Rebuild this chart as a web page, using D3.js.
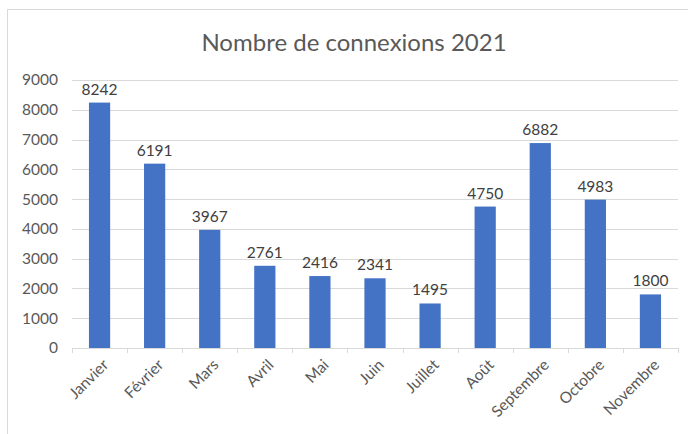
<!DOCTYPE html>
<html>
<head>
<meta charset="utf-8">
<script src="https://cdnjs.cloudflare.com/ajax/libs/d3/7.8.5/d3.min.js"></script>
<style>
  body { margin: 0; background: #fff; }
  text { font-family: Lato, "Open Sans", sans-serif; }
</style>
</head>
<body>
<div id="chart"></div>
<script>
var months = ["Janvier","Février","Mars","Avril","Mai","Juin","Juillet","Août","Septembre","Octobre","Novembre"]
var connexions = [8242, 6191, 3967, 2761, 2416, 2341, 1495, 4750, 6882, 4983, 1800]
var yTicks = [0, 1000, 2000, 3000, 4000, 5000, 6000, 7000, 8000, 9000]
var title = "Nombre de connexions 2021"

var W = 688, H = 434
var margin = {top: 80, left: 72, right: 10, bottom: 86}
var width = W - margin.left - margin.right,
    height = H - margin.top - margin.bottom

var svg = d3.select("#chart")
  .append("svg")
  .attr("width", W)
  .attr("height", H)

// chart frame (only top and left visible in the crop)
svg.append("path")
  .attr("d", "M7.5," + H + " V9.5 H" + W)
  .attr("fill", "none")
  .attr("stroke", "#d9d9d9")
  .attr("stroke-width", 1)

svg.append("text")
  .attr("x", 354)
  .attr("y", 51)
  .attr("text-anchor", "middle")
  .attr("font-size", 24)
  .attr("fill", "#595959")
  .text(title)

var g = svg.append("g")
  .attr("transform", "translate(" + margin.left + "," + margin.top + ")")

var x = d3.scaleBand()
  .domain(months)
  .range([0, width])
  .paddingInner(0.615)
  .paddingOuter(0.3075)

var y = d3.scaleLinear()
  .domain([0, 9000])
  .range([height, 0])

// gridlines
g.selectAll(".grid")
  .data(yTicks.slice(1))
  .enter()
  .append("line")
  .attr("x1", 0)
  .attr("x2", width)
  .attr("y1", function(d) { return Math.round(y(d)) + 0.5 })
  .attr("y2", function(d) { return Math.round(y(d)) + 0.5 })
  .attr("stroke", "#d9d9d9")

// y labels
g.selectAll(".ylab")
  .data(yTicks)
  .enter()
  .append("text")
  .attr("x", -14)
  .attr("y", function(d) { return y(d) })
  .attr("dy", "0.35em")
  .attr("text-anchor", "end")
  .attr("font-size", 15.5)
  .attr("fill", "#595959")
  .text(function(d) { return d })

// bars
g.selectAll(".bar")
  .data(connexions)
  .enter()
  .append("rect")
  .attr("x", function(d, i) { return x(months[i]) })
  .attr("width", x.bandwidth())
  .attr("y", function(d) { return y(d) })
  .attr("height", function(d) { return height - y(d) })
  .attr("fill", "#4472c4")

// value labels
g.selectAll(".val")
  .data(connexions)
  .enter()
  .append("text")
  .attr("x", function(d, i) { return x(months[i]) + x.bandwidth() / 2 })
  .attr("y", function(d) { return y(d) - 8 })
  .attr("text-anchor", "middle")
  .attr("font-size", 15.5)
  .attr("fill", "#404040")
  .text(function(d) { return d })

// x axis line + ticks at band boundaries
var step = x.step()
g.append("line")
  .attr("x1", 0).attr("x2", width)
  .attr("y1", height + 0.5).attr("y2", height + 0.5)
  .attr("stroke", "#d9d9d9")

g.selectAll(".xtick")
  .data(d3.range(months.length + 1))
  .enter()
  .append("line")
  .attr("x1", function(i) { return Math.round(i * step) + 0.5 })
  .attr("x2", function(i) { return Math.round(i * step) + 0.5 })
  .attr("y1", height)
  .attr("y2", height + 5)
  .attr("stroke", "#d9d9d9")

// rotated month labels
g.selectAll(".xlab")
  .data(months)
  .enter()
  .append("text")
  .attr("transform", function(d) {
    return "translate(" + (x(d) + x.bandwidth() / 2 + 6) + "," + (height + 14) + ") rotate(-45)"
  })
  .attr("text-anchor", "end")
  .attr("dy", "0.35em")
  .attr("font-size", 15.5)
  .attr("fill", "#595959")
  .text(function(d) { return d })
</script>
</body>
</html>
